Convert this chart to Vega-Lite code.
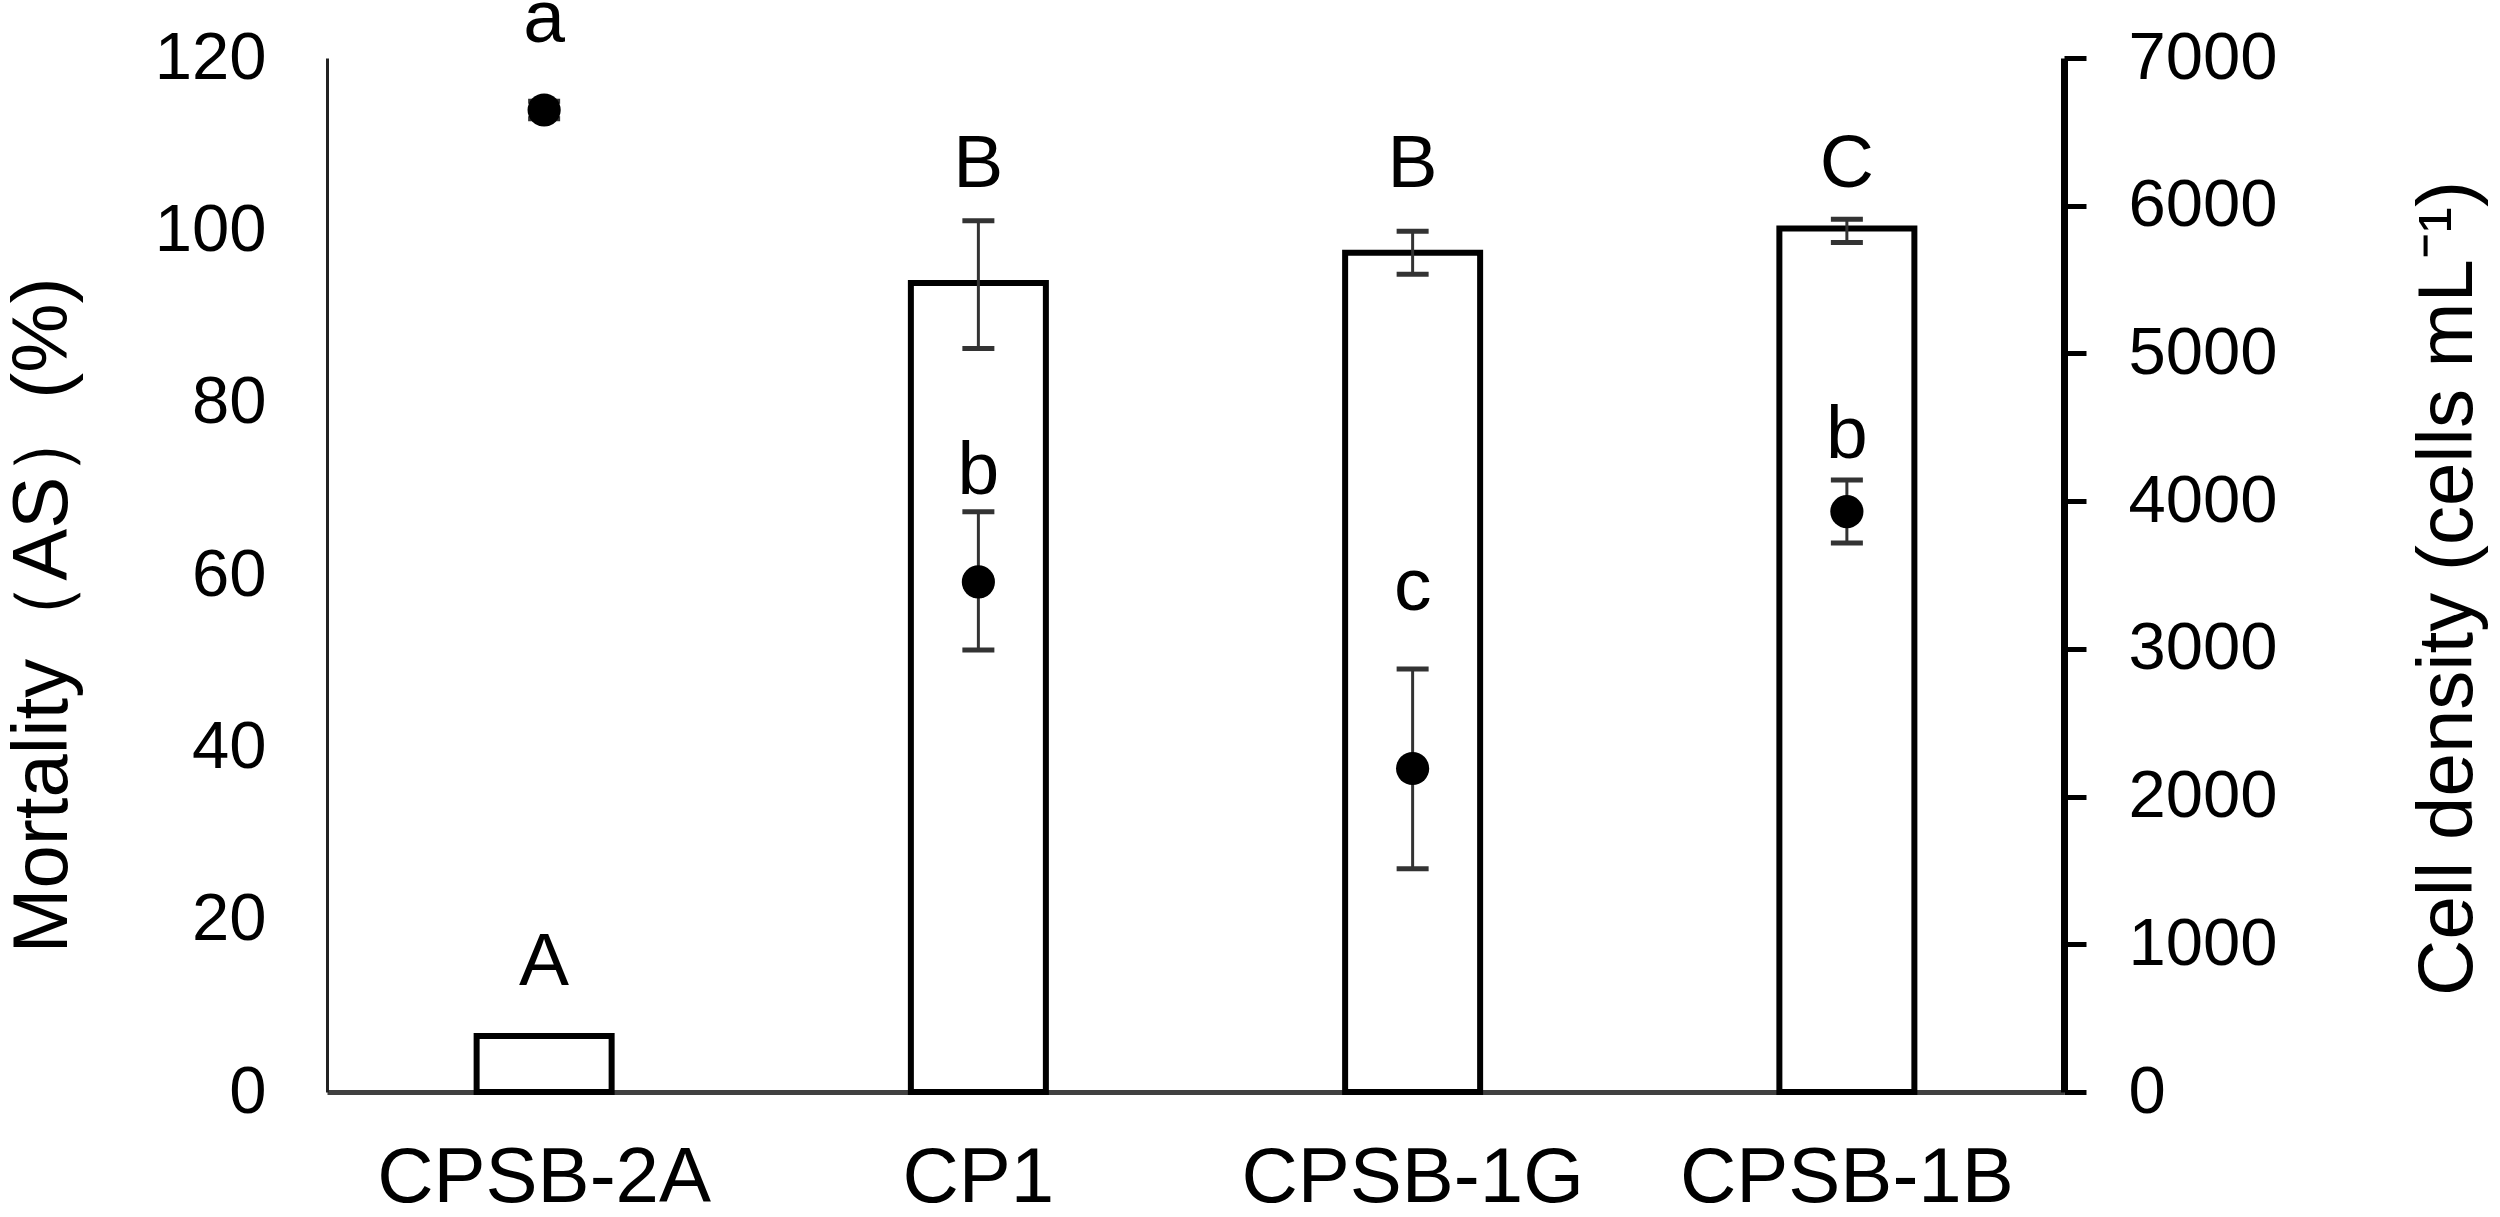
{
  "$schema": "https://vega.github.io/schema/vega-lite/v6.json",
  "width": 1737,
  "height": 1034,
  "autosize": {"type": "none"},
  "padding": {"left": 327, "top": 58, "right": 436, "bottom": 125},
  "background": "white",
  "config": {
    "view": {"stroke": null},
    "font": "Liberation Sans",
    "axis": {"grid": false, "labelFont": "Liberation Sans", "titleFont": "Liberation Sans", "labelColor": "black", "titleColor": "black", "titleFontWeight": "normal", "labelLimit": 0}
  },
  "data": {
    "values": [
      {"strain": "CPSB-2A", "mort": 6.5, "mort_lo": null, "mort_hi": null, "cells": 6648, "cells_lo": 6588, "cells_hi": 6708, "up": "A", "up_y": 12.4, "low": "a", "low_y": 7108},
      {"strain": "CP1", "mort": 93.9, "mort_lo": 86.3, "mort_hi": 101.1, "cells": 3453, "cells_lo": 2992, "cells_hi": 3929, "up": "B", "up_y": 105, "low": "b", "low_y": 4048},
      {"strain": "CPSB-1G", "mort": 97.4, "mort_lo": 94.9, "mort_hi": 99.9, "cells": 2190, "cells_lo": 1511, "cells_hi": 2864, "up": "B", "up_y": 105, "low": "c", "low_y": 3262},
      {"strain": "CPSB-1B", "mort": 100.2, "mort_lo": 98.6, "mort_hi": 101.3, "cells": 3929, "cells_lo": 3716, "cells_hi": 4143, "up": "C", "up_y": 105, "low": "b", "low_y": 4290}
    ]
  },
  "encoding": {
    "x": {
      "field": "strain", "type": "nominal",
      "sort": ["CPSB-2A", "CP1", "CPSB-1G", "CPSB-1B"],
      "scale": {"paddingInner": 0, "paddingOuter": 0},
      "axis": {"title": null, "labelAngle": 0, "labelFontSize": 78, "labelLimit": 0, "ticks": false, "tickSize": 0, "labelPadding": 47, "domainColor": "#404040", "domainWidth": 5, "labelColor": "black"}
    }
  },
  "layer": [
    {
      "mark": {"type": "bar", "size": 135, "fill": "white", "stroke": "black", "strokeWidth": 6},
      "encoding": {
        "y": {
          "field": "mort", "type": "quantitative",
          "scale": {"domain": [0, 120], "nice": false},
          "axis": {"orient": "left", "values": [0, 20, 40, 60, 80, 100, 120], "title": "Mortality（AS）(%)", "ticks": false, "tickSize": 0, "labelFontSize": 67, "labelPadding": 61, "domainColor": "#222222", "domainWidth": 3, "titleFontSize": 78, "titleAngle": 270, "titleBaseline": "bottom", "titleAlign": "center", "titleX": -245, "titleY": 557}
        }
      }
    },
    {
      "mark": {"type": "rule", "strokeWidth": 3, "color": "#333333"},
      "encoding": {
        "y": {"field": "mort_lo", "type": "quantitative", "scale": {"domain": [0, 120], "nice": false}, "axis": null},
        "y2": {"field": "mort_hi"}
      }
    },
    {
      "mark": {"type": "tick", "size": 32, "thickness": 5, "color": "#333333", "orient": "horizontal", "opacity": 1},
      "encoding": {"y": {"field": "mort_lo", "type": "quantitative", "scale": {"domain": [0, 120], "nice": false}, "axis": null}}
    },
    {
      "mark": {"type": "tick", "size": 32, "thickness": 5, "color": "#333333", "orient": "horizontal", "opacity": 1},
      "encoding": {"y": {"field": "mort_hi", "type": "quantitative", "scale": {"domain": [0, 120], "nice": false}, "axis": null}}
    },
    {
      "mark": {"type": "text", "fontSize": 75, "baseline": "alphabetic", "font": "Liberation Sans", "color": "black"},
      "encoding": {
        "y": {"field": "up_y", "type": "quantitative", "scale": {"domain": [0, 120], "nice": false}, "axis": null},
        "text": {"field": "up"}
      }
    },
    {
      "mark": {"type": "rule", "strokeWidth": 3, "color": "#333333"},
      "encoding": {
        "y": {
          "field": "cells_lo", "type": "quantitative",
          "scale": {"domain": [0, 7000], "nice": false},
          "axis": {"orient": "right", "values": [0, 1000, 2000, 3000, 4000, 5000, 6000, 7000], "format": "d", "title": "Cell density (cells mL⁻¹)", "ticks": true, "tickSize": 22, "tickWidth": 5, "tickColor": "black", "labelFontSize": 67, "labelPadding": 42, "domainColor": "black", "domainWidth": 7, "titleFontSize": 78, "titleAngle": 270, "titleBaseline": "top", "titleAlign": "center", "titleX": 345, "titleY": 530}
        },
        "y2": {"field": "cells_hi"}
      }
    },
    {
      "mark": {"type": "tick", "size": 32, "thickness": 5, "color": "#333333", "orient": "horizontal", "opacity": 1},
      "encoding": {"y": {"field": "cells_lo", "type": "quantitative", "scale": {"domain": [0, 7000], "nice": false}, "axis": null}}
    },
    {
      "mark": {"type": "tick", "size": 32, "thickness": 5, "color": "#333333", "orient": "horizontal", "opacity": 1},
      "encoding": {"y": {"field": "cells_hi", "type": "quantitative", "scale": {"domain": [0, 7000], "nice": false}, "axis": null}}
    },
    {
      "mark": {"type": "point", "shape": "circle", "filled": true, "size": 1100, "color": "black", "opacity": 1},
      "encoding": {"y": {"field": "cells", "type": "quantitative", "scale": {"domain": [0, 7000], "nice": false}, "axis": null}}
    },
    {
      "mark": {"type": "text", "fontSize": 75, "baseline": "alphabetic", "font": "Liberation Sans", "color": "black"},
      "encoding": {
        "y": {"field": "low_y", "type": "quantitative", "scale": {"domain": [0, 7000], "nice": false}, "axis": null},
        "text": {"field": "low"}
      }
    }
  ],
  "resolve": {"scale": {"y": "independent"}, "axis": {"y": "independent"}}
}
